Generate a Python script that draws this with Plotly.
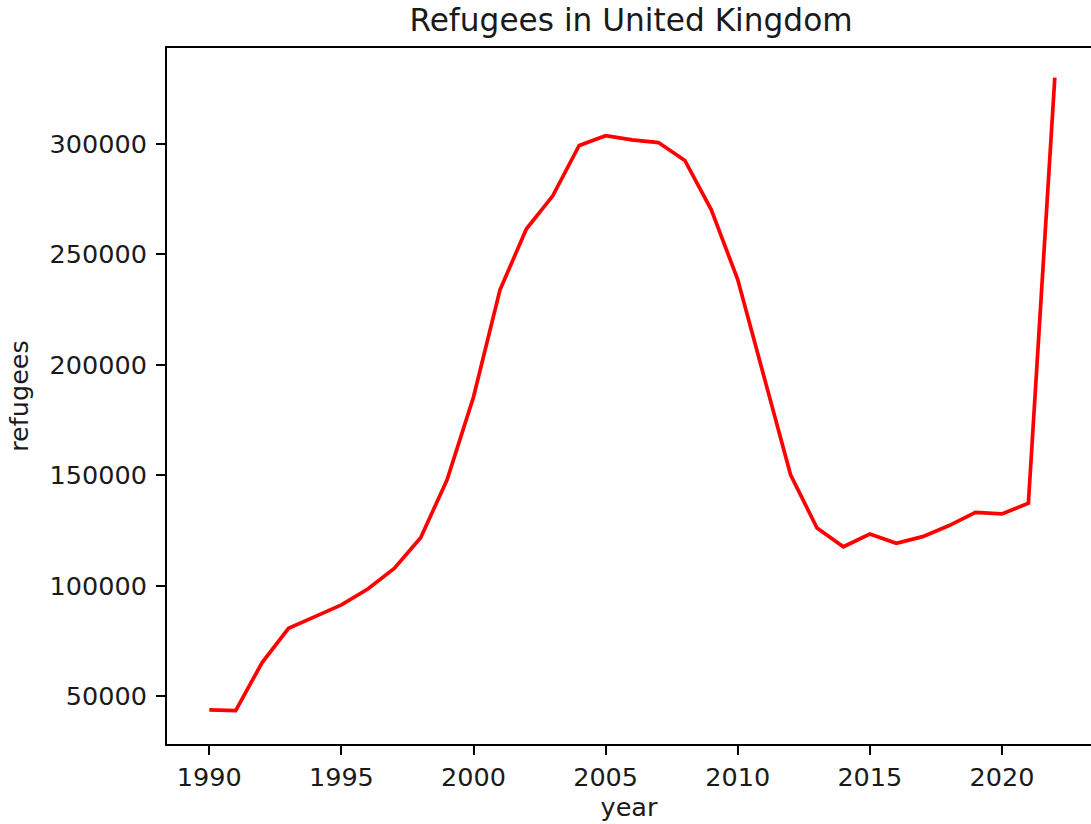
import plotly.graph_objects as go

# Refugee population living in the United Kingdom, by year
years = list(range(1990, 2023))
refugees = [
    43900, 43600, 65300, 80800, 86100, 91400, 98600, 107900, 121800, 148000,
    185500, 233900, 261500, 276500, 299300, 303700, 301800, 300600, 292500, 270200,
    238600, 194000, 150300, 126200, 117700, 123500, 119300, 122300, 127300, 133300,
    132600, 137400, 330000,
]
x_ticks = [1990, 1995, 2000, 2005, 2010, 2015, 2020]
y_ticks = [50000, 100000, 150000, 200000, 250000, 300000]

FONT = "DejaVu Sans"
INK = "#000000"
TEXT = "#1a1a1a"

fig = go.Figure()
fig.add_trace(go.Scatter(
    x=years, y=refugees, mode="lines",
    line=dict(color="#ff0000", width=3.7),
    hoverinfo="skip", showlegend=False,
))

axis_common = dict(
    showgrid=False, zeroline=False,
    showline=True, linecolor=INK, linewidth=2,
    ticks="outside", ticklen=9, tickwidth=2, tickcolor=INK,
    tickfont=dict(family=FONT, size=25.5, color=TEXT),
    automargin=True,
)

fig.update_layout(
    width=1091, height=824,
    paper_bgcolor="white", plot_bgcolor="white",
    margin=dict(l=167, r=0, t=48, b=80, pad=0),
    font=dict(family=FONT, color=TEXT),
    title=dict(
        text="Refugees in United Kingdom",
        font=dict(family=FONT, size=31.2, color=TEXT),
        x=631 / 1091, xanchor="center", xref="container",
        y=1 - 20 / 824, yanchor="middle", yref="container",
    ),
    xaxis=dict(
        axis_common,
        range=[1988.4, 2023.37],
        tickvals=x_ticks,
        ticktext=[str(v) for v in x_ticks],
        mirror=True,
        ticklabelstandoff=0,
        title=dict(text="year", font=dict(family=FONT, size=25.5, color=TEXT), standoff=6),
    ),
    yaxis=dict(
        axis_common,
        range=[28460, 343400],
        tickvals=y_ticks,
        ticktext=[str(v) for v in y_ticks],
        mirror=False,
        ticklabelstandoff=4,
        title=dict(text="refugees", font=dict(family=FONT, size=25.5, color=TEXT), standoff=14),
    ),
)

fig.write_html("out.html")
